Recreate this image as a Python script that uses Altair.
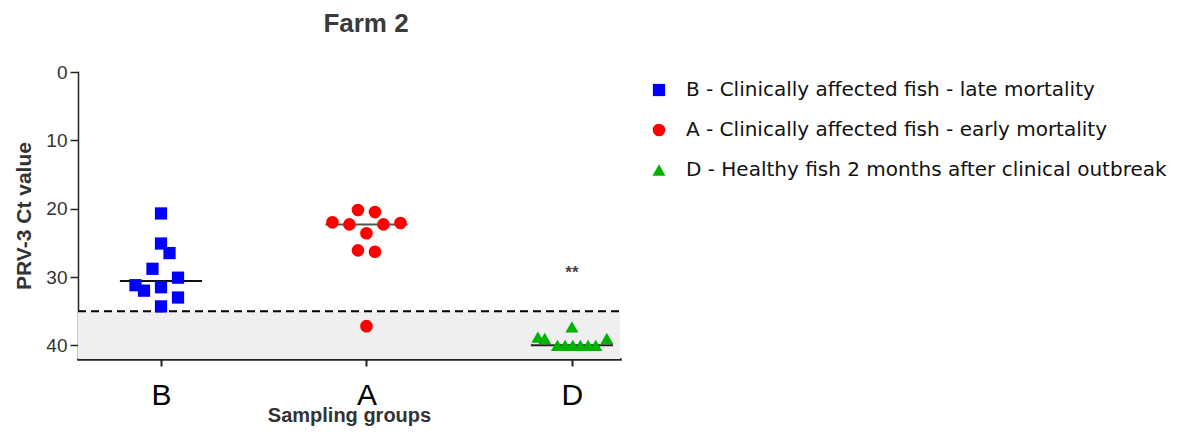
import altair as alt
import pandas as pd

# ---- data ----
groups = ["B", "A", "D"]
legend_labels = [
    "B - Clinically affected fish - late mortality",
    "A - Clinically affected fish - early mortality",
    "D - Healthy fish 2 months after clinical outbreak",
]
colors = ["#0000FF", "#FF0000", "#00B300"]
shapes = ["square", "circle", "triangle-up"]
marker_sizes = [150, 170, 230]

B_ct = [20.7, 25.1, 26.5, 28.8, 30.1, 31.2, 32.0, 31.5, 33.0, 34.3]
B_off = [0, 0, 1, -1, 2, -3, -2, 0, 2, 0]
A_ct = [20.2, 20.5, 22.0, 22.3, 22.3, 22.1, 23.6, 26.1, 26.3, 37.2]
A_off = [-1, 1, -4, -2, 2, 4, 0, -1, 1, 0]
D_ct = [37.3, 38.8, 39.0, 39.0, 40, 40, 40, 40, 40, 40]
D_off = [0, -4, -3.2, 4.1, -1.7, -0.8, 0.1, 1.0, 1.9, 2.8]

medians = [30.6, 22.3, 40.0]
median_colors = ["#111111", "#555555", "#222222"]
cutoff = 35
y_max = 42
sig_label = "**"
sig_value = 29.4

STEP = 0.0414      # horizontal spread unit (group spacing = 1)
HALF = 0.2         # half width of the median line

rows = []
for gi, (cts, offs) in enumerate([(B_ct, B_off), (A_ct, A_off), (D_ct, D_off)]):
    for c, o in zip(cts, offs):
        rows.append({"gi": gi, "off": o, "ct": c, "grp": legend_labels[gi]})
pts = pd.DataFrame(rows)

med = pd.DataFrame({"gi": [0, 1, 2], "med": medians, "mc": median_colors})
band = pd.DataFrame({"lo": [cutoff], "hi": [y_max]})
sig = pd.DataFrame({"gi": [2], "v": [sig_value], "t": [sig_label]})

W, H = 542, 287
xdom = [-0.404, 2.234]
xscale = alt.Scale(domain=xdom, nice=False, zero=False)
yscale = alt.Scale(domain=[0, y_max], reverse=True, nice=False, zero=True)

FONT = "Liberation Sans"

shade = alt.Chart(band).mark_rect(color="#efefef").encode(
    x=alt.value(0), x2=alt.value(W),
    y=alt.Y("lo:Q", scale=yscale), y2="hi:Q",
)
cut = alt.Chart(band).mark_rule(color="black", strokeWidth=2, strokeDash=[8, 5]).encode(
    x=alt.value(0), x2=alt.value(W),
    y=alt.Y("lo:Q", scale=yscale),
)
medline = alt.Chart(med).transform_calculate(
    xl=f"datum.gi - {HALF}", xr=f"datum.gi + {HALF}"
).mark_rule(strokeWidth=2).encode(
    x=alt.X("xl:Q", scale=xscale), x2="xr:Q",
    y=alt.Y("med:Q", scale=yscale),
    color=alt.Color("mc:N", scale=None),
)

points = alt.Chart(pts).transform_calculate(
    xp=f"datum.gi + datum.off * {STEP}"
).mark_point(filled=True, opacity=1).encode(
    x=alt.X(
        "xp:Q", scale=xscale,
        axis=alt.Axis(
            values=[0, 1, 2], title="Sampling groups",
            labelExpr="['B','A','D'][datum.value]",
            grid=False, domainColor="#222", domainWidth=2.5,
            tickColor="#222", tickWidth=2, tickSize=7,
            labelFontSize=30, labelColor="black", labelPadding=14,
            labelFont=FONT, titleFont=FONT, titleFontSize=20,
            titleFontWeight="bold", titleColor="#333", titlePadding=-5,
        ),
    ),
    y=alt.Y(
        "ct:Q", scale=yscale,
        axis=alt.Axis(
            values=[0, 10, 20, 30, 40], title="PRV-3 Ct value",
            grid=False, domainColor="#222", domainWidth=1.5,
            tickColor="#222", tickWidth=1.5, tickSize=8,
            labelFontSize=19, labelColor="#333", labelPadding=3,
            labelFont=FONT, titleFont=FONT, titleFontSize=21,
            titleFontWeight="bold", titleColor="#333", titlePadding=11,
        ),
    ),
    color=alt.Color(
        "grp:N",
        scale=alt.Scale(domain=legend_labels, range=colors),
        legend=alt.Legend(
            title=None, labelFontSize=20, labelFont="DejaVu Sans", labelColor="#111",
            labelLimit=700, symbolSize=130, rowPadding=20,
            labelOffset=17, orient="none", legendX=571, legendY=8,
        ),
    ),
    shape=alt.Shape(
        "grp:N",
        scale=alt.Scale(domain=legend_labels, range=shapes),
    ),
    size=alt.Size(
        "grp:N",
        scale=alt.Scale(domain=legend_labels, range=marker_sizes),
        legend=None,
    ),
)

star = alt.Chart(sig).mark_text(fontSize=17, color="#444", font=FONT, fontWeight="bold").encode(
    x=alt.X("gi:Q", scale=xscale),
    y=alt.Y("v:Q", scale=yscale),
    text="t:N",
)

chart = alt.layer(shade, cut, medline, points, star).properties(
    width=W, height=H,
    autosize=alt.AutoSizeParams(type="none"),
    padding={"left": 70, "top": 64, "right": 556, "bottom": 71},
    title=alt.TitleParams("Farm 2", font=FONT, fontSize=26, fontWeight="bold",
                          color="#3a3a3a", offset=26, dx=17),
).configure_view(stroke=None).configure_axis(domainCap="square")

chart.save("out.html", embed_options={"renderer": "svg", "actions": False})
